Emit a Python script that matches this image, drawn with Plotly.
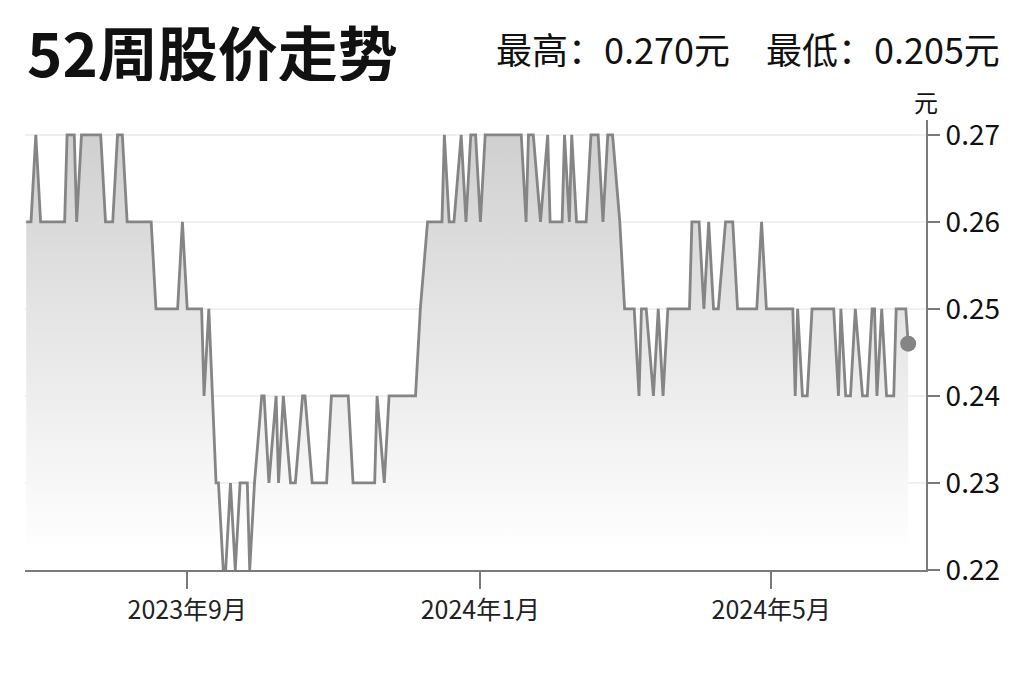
import plotly.graph_objects as go

# 52-week closing prices (turning points)
trade_dates = [
    "2023-06-26", "2023-06-28", "2023-06-30", "2023-07-02", "2023-07-12", "2023-07-13",
    "2023-07-16", "2023-07-17", "2023-07-19", "2023-07-27", "2023-07-29", "2023-08-01",
    "2023-08-03", "2023-08-05", "2023-08-07", "2023-08-17", "2023-08-19", "2023-08-28",
    "2023-08-30", "2023-09-01",
    "2023-09-07", "2023-09-08", "2023-09-10", "2023-09-13", "2023-09-14", "2023-09-16",
    "2023-09-17", "2023-09-19", "2023-09-21", "2023-09-23", "2023-09-26", "2023-09-27",
    "2023-09-29", "2023-10-02", "2023-10-03", "2023-10-05", "2023-10-08", "2023-10-09",
    "2023-10-11", "2023-10-14", "2023-10-16", "2023-10-19", "2023-10-20", "2023-10-23",
    "2023-10-29", "2023-10-31",
    "2023-11-07", "2023-11-09", "2023-11-18", "2023-11-19", "2023-11-22", "2023-11-24",
    "2023-12-05", "2023-12-07", "2023-12-10", "2023-12-16", "2023-12-17", "2023-12-19",
    "2023-12-21", "2023-12-24", "2023-12-26", "2023-12-28", "2023-12-30", "2024-01-01",
    "2024-01-03",
    "2024-01-18", "2024-01-20", "2024-01-21", "2024-01-23", "2024-01-26", "2024-01-29",
    "2024-01-30", "2024-02-04", "2024-02-05", "2024-02-07", "2024-02-08", "2024-02-10",
    "2024-02-14", "2024-02-16", "2024-02-19", "2024-02-21", "2024-02-23", "2024-02-25",
    "2024-02-28", "2024-03-01", "2024-03-05", "2024-03-07", "2024-03-08", "2024-03-10",
    "2024-03-13", "2024-03-15", "2024-03-17", "2024-03-19",
    "2024-03-28", "2024-03-29", "2024-04-01", "2024-04-03", "2024-04-05", "2024-04-07",
    "2024-04-09", "2024-04-12", "2024-04-15", "2024-04-17", "2024-04-25", "2024-04-27",
    "2024-04-29", "2024-05-10", "2024-05-11", "2024-05-12", "2024-05-14", "2024-05-16",
    "2024-05-18",
    "2024-05-27", "2024-05-29", "2024-05-30", "2024-06-01", "2024-06-03", "2024-06-05",
    "2024-06-08", "2024-06-10", "2024-06-12", "2024-06-13", "2024-06-14", "2024-06-16",
    "2024-06-18", "2024-06-21", "2024-06-22", "2024-06-26", "2024-06-27",
]
close_prices = [
    0.26, 0.26, 0.27, 0.26, 0.26, 0.27, 0.27, 0.26, 0.27, 0.27, 0.26, 0.26,
    0.27, 0.27, 0.26, 0.26, 0.25, 0.25, 0.26, 0.25,
    0.25, 0.24, 0.25, 0.23, 0.23, 0.22, 0.22, 0.23, 0.22, 0.23, 0.23, 0.22,
    0.23, 0.24, 0.24, 0.23, 0.24, 0.23, 0.24, 0.23, 0.23, 0.24, 0.24, 0.23,
    0.23, 0.24,
    0.24, 0.23, 0.23, 0.24, 0.23, 0.24, 0.24, 0.25, 0.26, 0.26, 0.27, 0.26,
    0.26, 0.27, 0.26, 0.27, 0.27, 0.26, 0.27,
    0.27, 0.26, 0.27, 0.27, 0.26, 0.27, 0.26, 0.26, 0.27, 0.26, 0.27, 0.26,
    0.26, 0.27, 0.27, 0.26, 0.27, 0.27, 0.26, 0.25, 0.25, 0.24, 0.25, 0.25,
    0.24, 0.25, 0.24, 0.25,
    0.25, 0.26, 0.26, 0.25, 0.26, 0.25, 0.25, 0.26, 0.26, 0.25, 0.25, 0.26,
    0.25, 0.25, 0.24, 0.25, 0.24, 0.24, 0.25,
    0.25, 0.24, 0.25, 0.24, 0.24, 0.25, 0.24, 0.24, 0.25, 0.25, 0.24, 0.25,
    0.24, 0.24, 0.25, 0.25, 0.246,
]

month_ticks = ["2023-09-01", "2024-01-01", "2024-05-01"]
month_labels = ["2023年9月", "2024年1月", "2024年5月"]
price_ticks = [0.22, 0.23, 0.24, 0.25, 0.26, 0.27]

high_52w = 0.270
low_52w = 0.205

CJK = "Noto Sans CJK SC"
LINE = "#858585"
AXIS = "#7a7a7a"

fig = go.Figure()

fig.add_trace(go.Scatter(
    x=trade_dates, y=close_prices, mode="lines",
    line=dict(color=LINE, width=2.8),
    fill="tozeroy",
    fillgradient=dict(type="vertical", start=0.222, stop=0.27,
                      colorscale=[[0, "rgba(255,255,255,1)"], [1, "rgb(208,208,208)"]]),
    hoverinfo="skip", showlegend=False,
))

# latest price dot
fig.add_trace(go.Scatter(
    x=[trade_dates[-1]], y=[close_prices[-1]], mode="markers",
    marker=dict(color=LINE, size=16),
    hoverinfo="skip", showlegend=False,
))

# page body has an 8px margin, so the figure is 8px smaller than the window
fig.update_layout(
    width=1016, height=674,
    margin=dict(l=17, r=98, t=112, b=112),
    paper_bgcolor="white", plot_bgcolor="white",
    font=dict(family=CJK, color="#111111"),
    xaxis=dict(
        type="date",
        range=["2023-06-25 12:00", "2024-07-04 10:00"],
        tickvals=month_ticks, ticktext=month_labels,
        tickfont=dict(size=25, family=CJK, color="#222222"),
        ticks="outside", ticklen=17, tickwidth=1.5, tickcolor=AXIS,
        showline=True, linecolor=AXIS, linewidth=2,
        showgrid=False, zeroline=False,
    ),
    yaxis=dict(
        side="right",
        range=[0.22, 0.2717],
        tickvals=price_ticks, ticktext=[f"{v:.2f}" for v in price_ticks],
        tickfont=dict(size=28, family=CJK, color="#111111"),
        ticks="outside", ticklen=12, tickwidth=1.5, tickcolor=AXIS,
        showline=True, linecolor=AXIS, linewidth=2,
        showgrid=True, gridcolor="#f0f0f0", gridwidth=1.5,
        zeroline=False,
    ),
    annotations=[
        dict(text="<b>52周股价走势</b>", xref="paper", yref="paper",
             x=0.0, y=1.156, xanchor="left", yanchor="middle",
             height=62, valign="middle",
             showarrow=False, font=dict(size=60, family=CJK, color="#111111")),
        dict(text=f"最高：{high_52w:.3f}元　最低：{low_52w:.3f}元",
             xref="paper", yref="paper", x=1.084, y=1.16,
             xanchor="right", yanchor="middle", showarrow=False,
             font=dict(size=36, family=CJK, color="#111111")),
        dict(text="元", xref="paper", yref="paper", x=1.0, y=1.042,
             xanchor="center", yanchor="middle", showarrow=False,
             font=dict(size=24, family=CJK, color="#111111")),
    ],
)

fig.write_html("out.html")
